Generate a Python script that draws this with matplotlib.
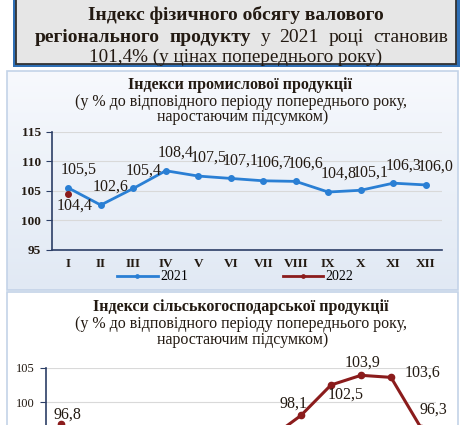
import numpy as np
import matplotlib.pyplot as plt
from matplotlib.patches import Rectangle
from matplotlib.colors import LinearSegmentedColormap

# data
months = ['I', 'II', 'III', 'IV', 'V', 'VI', 'VII', 'VIII', 'IX', 'X', 'XI', 'XII']
prom_2021 = [105.5, 102.6, 105.4, 108.4, 107.5, 107.1, 106.7, 106.6, 104.8, 105.1, 106.3, 106.0]
prom_2022 = [104.4]
agro_months = months + ['I']
agro_vals = [96.8, 91.0, 88.5, 88.0, 89.5, 90.5, 92.0, 94.9, 98.1, 102.5, 103.9, 103.6, 96.3]

W, H = 462, 425
TXT = '#231a12'
BLUE = '#2a7fd4'
RED = '#8b1c1c'
NAVY = '#2c3e66'

plt.rcParams['font.family'] = 'Liberation Serif'

fig = plt.figure(figsize=(W / 100, H / 100), dpi=100)

# background layer, coordinates in pixels from the top-left corner
bg = fig.add_axes([0, 0, 1, 1])
bg.axis('off')

# title box
bg.add_patch(Rectangle((13, -5), 447, 72, facecolor='#2f6fb5', edgecolor='none'))
bg.add_patch(Rectangle((16, -5), 440, 69, facecolor='#e6e6e6', edgecolor='#333333', lw=1.3))
bg.text(236, 15, 'Індекс фізичного обсягу валового', ha='center', va='center',
        fontsize=14, fontweight='bold', color=TXT)
line2 = [('регіонального', 'bold'), ('продукту', 'bold'), ('у', 'normal'),
         ('2021', 'normal'), ('році', 'normal'), ('становив', 'normal')]
line2_txt = [bg.text(0, 37, w, ha='left', va='center', fontsize=14, fontweight=fw, color=TXT)
             for w, fw in line2]
bg.text(236, 57, '101,4% (у цінах попереднього року)', ha='center', va='center',
        fontsize=13.8, color=TXT)

# panel 1 with soft gradient
cmap = LinearSegmentedColormap.from_list('pnl', ['#f7f9fd', '#e1e9f4'])
bg.imshow(np.linspace(0, 1, 100).reshape(-1, 1), cmap=cmap, aspect='auto',
          extent=(7, 458, 290, 71), origin='upper', zorder=0)
bg.add_patch(Rectangle((7, 71), 451, 219, facecolor='none', edgecolor='#c3d3e8', lw=1.2, zorder=1))

bg.text(240, 85, 'Індекси промислової продукції', ha='center', va='center',
        fontsize=11.5, fontweight='bold', color=TXT)
bg.text(241, 102, '(у % до відповідного періоду попереднього року,', ha='center', va='center',
        fontsize=11.5, color=TXT)
bg.text(243, 117, 'наростаючим підсумком)', ha='center', va='center',
        fontsize=11.5, color=TXT)

# panel 2
bg.add_patch(Rectangle((7, 292), 451, 150, facecolor='white', edgecolor='#c3d3e8', lw=1.2, zorder=1))
bg.text(241, 307, 'Індекси сільськогосподарської продукції', ha='center', va='center',
        fontsize=11.5, fontweight='bold', color=TXT)
bg.text(241, 324, '(у % до відповідного періоду попереднього року,', ha='center', va='center',
        fontsize=11.5, color=TXT)
bg.text(243, 340, 'наростаючим підсумком)', ha='center', va='center',
        fontsize=11.5, color=TXT)

bg.set_xlim(0, W)
bg.set_ylim(H, 0)


def px_box(left, top, right, bottom):
    return [left / W, 1 - bottom / H, (right - left) / W, (bottom - top) / H]


def fmt(v):
    return f'{v:.1f}'.replace('.', ',')


# chart 1
ax1 = fig.add_axes(px_box(52, 131.7, 442, 250))
ax1.patch.set_alpha(0)
x1 = np.arange(len(months))
ax1.plot(x1, prom_2021, color=BLUE, lw=2, marker='o', ms=4, label='2021')
ax1.plot(x1[:len(prom_2022)], prom_2022, color=RED, lw=2, marker='o', ms=4, label='2022')
for xi, v in zip(x1, prom_2021):
    ax1.annotate(fmt(v), (xi, v), xytext=(10, 18), textcoords='offset pixels',
                 ha='center', va='center', fontsize=11.5, color=TXT)
for xi, v in zip(x1, prom_2022):
    ax1.annotate(fmt(v), (xi, v), xytext=(6, -11), textcoords='offset pixels',
                 ha='center', va='center', fontsize=11.5, color=TXT)
ax1.set_xlim(-0.5, len(months) - 0.5)
ax1.set_ylim(95, 115)
ax1.set_yticks([95, 100, 105, 110, 115])
ax1.set_xticks(x1)
ax1.set_xticklabels(months)
ax1.grid(axis='y', color='#d9d9d9', lw=0.8)
ax1.set_axisbelow(True)
for s in ['top', 'right']:
    ax1.spines[s].set_visible(False)
for s in ['left', 'bottom']:
    ax1.spines[s].set_color(NAVY)
    ax1.spines[s].set_linewidth(1.2)
ax1.tick_params(axis='y', length=4, color=NAVY, labelsize=9.5, pad=4)
ax1.tick_params(axis='x', length=0, labelsize=9.5, pad=6)
for t in ax1.get_xticklabels() + ax1.get_yticklabels():
    t.set_fontweight('bold')
    t.set_color(TXT)
ax1.legend(loc='center', bbox_to_anchor=(235.5 / W, 1 - 277 / H), bbox_transform=fig.transFigure,
           ncol=2, frameon=False, fontsize=10, handlelength=2.9, handletextpad=0.2,
           columnspacing=6.8, markerscale=0.6)

# chart 2, cut off by the bottom of the picture
ax2 = fig.add_axes(px_box(46, 367.7, 436, 506))
ax2.patch.set_alpha(0)
x2 = np.arange(len(agro_months))
ax2.plot(x2, agro_vals, color=RED, lw=2.2, marker='o', ms=4.5)
# only the labels that are visible in the picture
offs = {0: (6, 10), 8: (-8, 12), 9: (15, -10), 10: (2, 13), 11: (32, 5), 12: (12, 18)}
for xi, v in zip(x2, agro_vals):
    if xi in offs:
        ax2.annotate(fmt(v), (xi, v), xytext=offs[xi], textcoords='offset pixels',
                     ha='center', va='center', fontsize=11.5, color=TXT)
ax2.set_xlim(-0.5, len(agro_months) - 0.5)
ax2.set_ylim(85, 105)
ax2.set_yticks([100, 105])
ax2.set_xticks(x2)
ax2.grid(axis='y', color='#d9d9d9', lw=0.8)
ax2.set_axisbelow(True)
for s in ['top', 'right']:
    ax2.spines[s].set_visible(False)
for s in ['left', 'bottom']:
    ax2.spines[s].set_color(NAVY)
    ax2.spines[s].set_linewidth(1.2)
ax2.tick_params(axis='y', length=4, color=NAVY, labelsize=9, pad=4, labelcolor=TXT)
ax2.tick_params(axis='x', length=0, labelbottom=False)

# justify the second line of the title box between x=35 and x=448
fig.canvas.draw()
rend = fig.canvas.get_renderer()
widths = [t.get_window_extent(rend).width for t in line2_txt]
gap = (448 - 35 - sum(widths)) / (len(widths) - 1)
xpos = 35
for t, w in zip(line2_txt, widths):
    t.set_x(xpos)
    xpos += w + gap

fig.savefig('out.png', dpi=100)
